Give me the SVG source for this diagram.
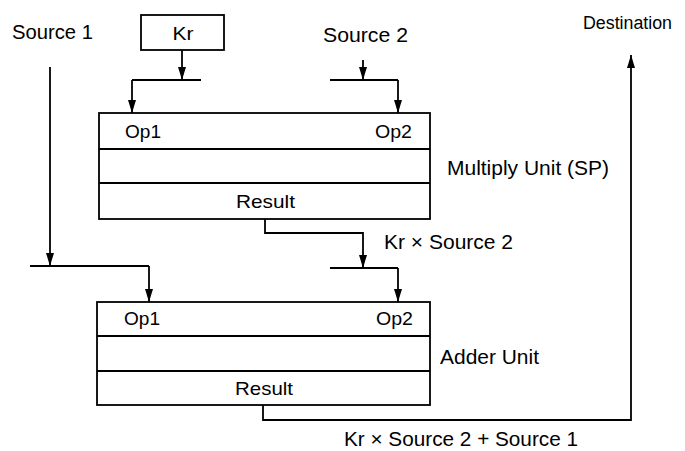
<svg xmlns="http://www.w3.org/2000/svg" width="685" height="451" viewBox="0 0 685 451">
<style>
text{font-family:"Liberation Sans",Arial,sans-serif;font-size:19px;fill:#000}
.lbl{font-size:20px}
.dst{font-size:18px}
.box{fill:#fff;stroke:#000;stroke-width:1.8}
.ln{fill:none;stroke:#000;stroke-width:1.8}
.mid{text-anchor:middle}
.end{text-anchor:end}
</style>
<defs>
<marker id="ah" viewBox="0 0 13 8" refX="13" refY="4" markerWidth="13" markerHeight="8" markerUnits="userSpaceOnUse" orient="auto">
<path d="M0,0 L13,4 L0,8 z" fill="#000"/>
</marker>
</defs>
<g id="labels">
<text class="lbl" x="12" y="39" textLength="81" lengthAdjust="spacingAndGlyphs">Source 1</text>
<text class="lbl" x="323" y="42" textLength="85" lengthAdjust="spacingAndGlyphs">Source 2</text>
<text class="dst" x="583" y="29" textLength="89" lengthAdjust="spacingAndGlyphs">Destination</text>
<text class="lbl" x="447" y="175" textLength="162" lengthAdjust="spacingAndGlyphs">Multiply Unit (SP)</text>
<text class="lbl" x="384" y="249" textLength="129" lengthAdjust="spacingAndGlyphs">Kr × Source 2</text>
<text class="lbl" x="440" y="364" textLength="99" lengthAdjust="spacingAndGlyphs">Adder Unit</text>
<text class="lbl" x="344" y="446" textLength="234" lengthAdjust="spacingAndGlyphs">Kr × Source 2 + Source 1</text>
</g>
<g id="kr">
<rect class="box" x="141" y="15" width="83" height="35"/>
<text class="mid" x="183" y="40" textLength="21" lengthAdjust="spacingAndGlyphs">Kr</text>
</g>
<g id="multiply">
<rect class="box" x="99" y="113" width="331" height="106"/>
<line class="ln" x1="99" y1="149" x2="430" y2="149"/>
<line class="ln" x1="99" y1="183" x2="430" y2="183"/>
<text x="125" y="138" textLength="36" lengthAdjust="spacingAndGlyphs">Op1</text>
<text x="375" y="138" textLength="37" lengthAdjust="spacingAndGlyphs">Op2</text>
<text x="236" y="208" textLength="59" lengthAdjust="spacingAndGlyphs">Result</text>
</g>
<g id="adder">
<rect class="box" x="97" y="302" width="333" height="103"/>
<line class="ln" x1="97" y1="336" x2="430" y2="336"/>
<line class="ln" x1="97" y1="371" x2="430" y2="371"/>
<text x="124" y="325" textLength="36" lengthAdjust="spacingAndGlyphs">Op1</text>
<text x="376" y="325" textLength="37" lengthAdjust="spacingAndGlyphs">Op2</text>
<text x="235" y="395" textLength="58" lengthAdjust="spacingAndGlyphs">Result</text>
</g>
<g id="connectors">
<path class="ln" d="M182,50 V80" marker-end="url(#ah)"/>
<path class="ln" d="M132,80 H201"/>
<path class="ln" d="M132,80 V113" marker-end="url(#ah)"/>
<path class="ln" d="M363,60 V80" marker-end="url(#ah)"/>
<path class="ln" d="M330,80 H398"/>
<path class="ln" d="M398,80 V113" marker-end="url(#ah)"/>
<path class="ln" d="M50,67 V266" marker-end="url(#ah)"/>
<path class="ln" d="M30,266 H149"/>
<path class="ln" d="M149,266 V302" marker-end="url(#ah)"/>
<path class="ln" d="M265,219 V233 H363 V268" marker-end="url(#ah)"/>
<path class="ln" d="M330,268 H398"/>
<path class="ln" d="M398,268 V302" marker-end="url(#ah)"/>
<path class="ln" d="M263,405 V420 H631 V55" marker-end="url(#ah)"/>
</g>
</svg>
